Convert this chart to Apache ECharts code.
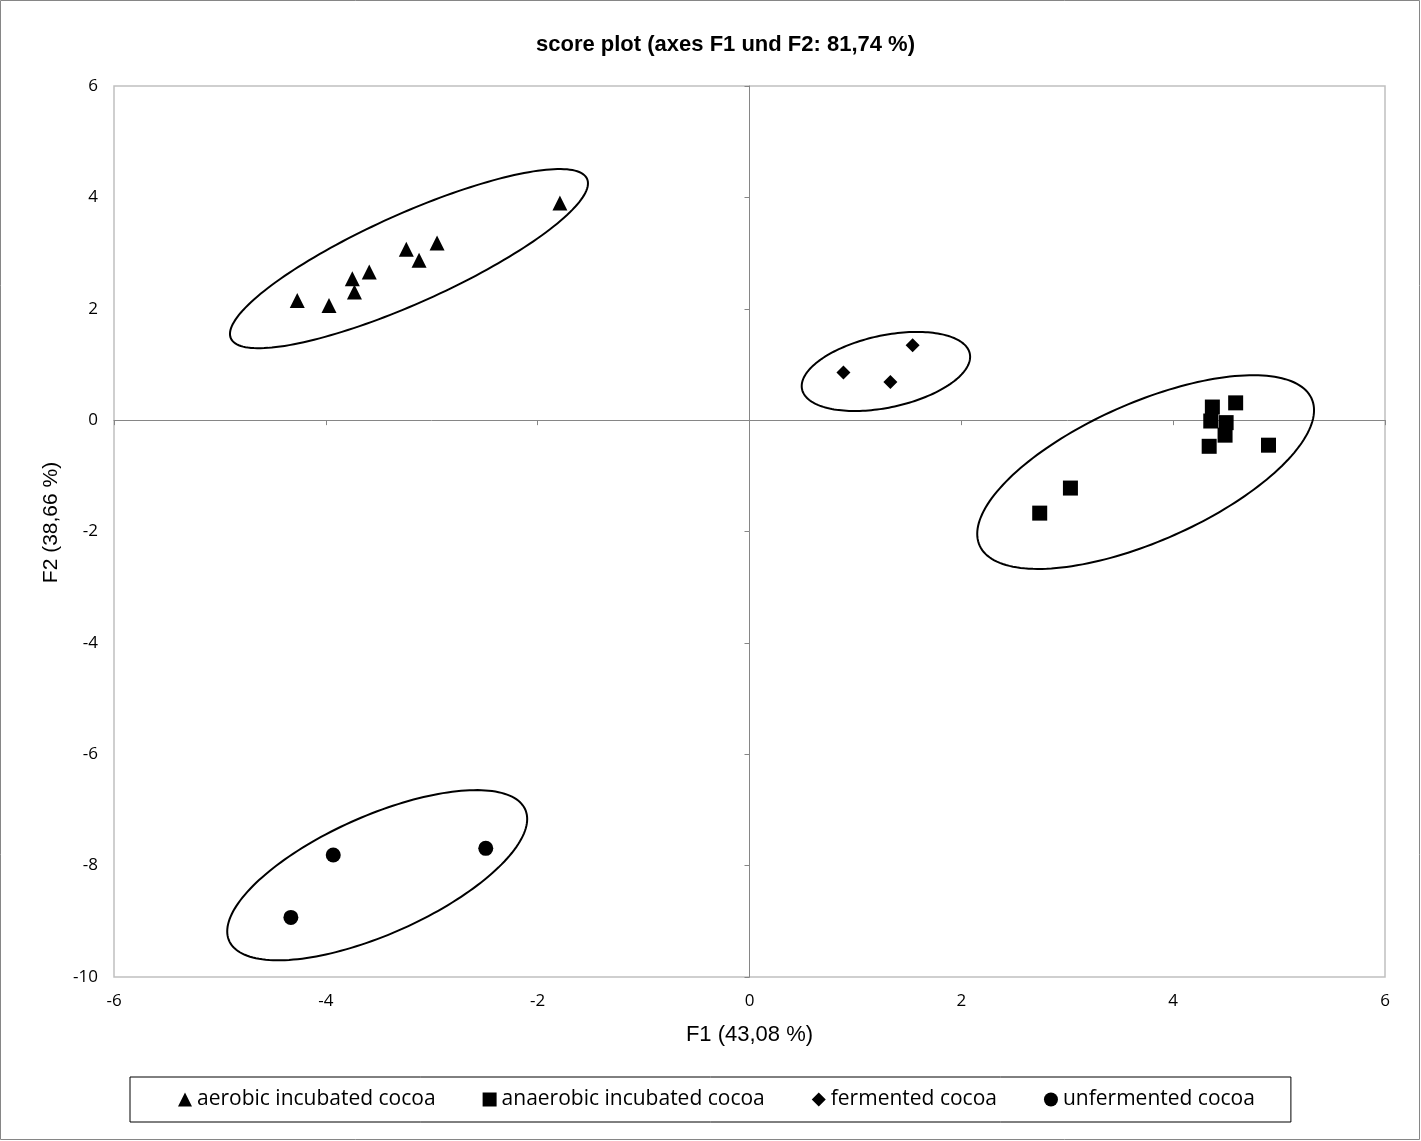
<!DOCTYPE html>
<html>
<head>
<meta charset="utf-8">
<script src="https://cdn.jsdelivr.net/npm/echarts@6/dist/echarts.min.js"></script>
<style>
html,body{margin:0;padding:0;background:#fff;}
#chart{width:1421px;height:1141px;}
</style>
</head>
<body>
<div id="chart"></div>
<script>
// ---- data ----
const seriesNames = ['aerobic incubated cocoa', 'anaerobic incubated cocoa', 'fermented cocoa', 'unfermented cocoa'];
const aerobicX = [-1.79, -4.27, -3.97, -3.75, -3.73, -3.59, -3.24, -3.12, -2.95];
const aerobicY = [3.90, 2.15, 2.06, 2.54, 2.30, 2.66, 3.07, 2.87, 3.18];
const anaerobicX = [2.74, 3.03, 4.37, 4.59, 4.355, 4.50, 4.49, 4.34, 4.90];
const anaerobicY = [-1.67, -1.22, 0.235, 0.31, -0.016, -0.045, -0.27, -0.47, -0.45];
const fermentedX = [0.887, 1.33, 1.54];
const fermentedY = [0.854, 0.685, 1.345];
const unfermentedX = [-3.93, -4.33, -2.49];
const unfermentedY = [-7.81, -8.93, -7.69];
// confidence ellipses: centre x, centre y, half x-extent, half y-extent, correlation (data units)
const ellipseCX = [-3.215, 3.74, 1.288, -3.515];
const ellipseCY = [2.90, -0.933, 0.874, -8.172];
const ellipseRX = [1.69, 1.59, 0.795, 1.416];
const ellipseRY = [1.609, 1.739, 0.71, 1.528];
const ellipseRho = [0.84, 0.638, 0.37, 0.66];
const xTicks = [-6, -4, -2, 0, 2, 4, 6];
const yTicks = [-10, -8, -6, -4, -2, 0, 2, 4, 6];

const zip = (xs, ys) => xs.map((x, i) => [x, ys[i]]);
const ellipseData = ellipseCX.map((c, i) => [c, ellipseCY[i], ellipseRX[i], ellipseRY[i], ellipseRho[i]]);

const chart = echarts.init(document.getElementById('chart'), null, {renderer: 'canvas'});
const tickFont = {fontFamily: 'Open Sans', fontSize: 17, color: '#000'};
const gray = '#868686';

function scatter(name, symbol, size, data) {
  return {
    name: name, type: 'scatter', symbol: symbol, symbolSize: size,
    itemStyle: {color: '#000', opacity: 1}, data: data, z: 5,
    emphasis: {disabled: true}
  };
}

chart.setOption({
  animation: false,
  backgroundColor: '#fff',
  title: {
    text: 'score plot (axes F1 und F2: 81,74 %)',
    left: 531, top: 29,
    textStyle: {fontFamily: 'Liberation Sans', fontWeight: 'bold', fontSize: 22, color: '#000'}
  },
  graphic: [{
    type: 'rect', silent: true, z: -1,
    shape: {x: 0.5, y: 0.5, width: 1419, height: 1139},
    style: {fill: 'none', stroke: gray, lineWidth: 1}
  }],
  grid: {
    left: 114, top: 86, right: 36, bottom: 164,
    show: true, borderColor: '#c0c0c0', borderWidth: 1.5, backgroundColor: '#fff'
  },
  xAxis: [{
    type: 'value', min: -6, max: 6, interval: 2, position: 'bottom',
    axisLine: {show: false, onZero: false},
    axisTick: {show: false}, splitLine: {show: false},
    axisLabel: Object.assign({margin: 16, formatter: v => xTicks.includes(v) ? String(v) : ''}, tickFont),
    name: 'F1 (43,08 %)', nameLocation: 'middle', nameGap: 47,
    nameTextStyle: {fontFamily: 'Liberation Sans', fontSize: 22, color: '#000'}
  }, {
    type: 'value', min: -6, max: 6, interval: 2, position: 'bottom',
    axisLine: {show: true, onZero: true, onZeroAxisIndex: 0, lineStyle: {color: gray, width: 1}},
    axisTick: {show: true, length: 5, lineStyle: {color: gray}},
    axisLabel: {show: false}, splitLine: {show: false}
  }],
  yAxis: [{
    type: 'value', min: -10, max: 6, interval: 2, position: 'left',
    axisLine: {show: false, onZero: false},
    axisTick: {show: false}, splitLine: {show: false},
    axisLabel: Object.assign({margin: 16, formatter: v => yTicks.includes(v) ? String(v) : ''}, tickFont),
    name: 'F2 (38,66 %)', nameLocation: 'middle', nameGap: 52, nameRotate: 90,
    nameTextStyle: {fontFamily: 'Liberation Sans', fontSize: 21, color: '#000', padding: [0, 0, 0, 18]}
  }, {
    type: 'value', min: -10, max: 6, interval: 2, position: 'left',
    axisLine: {show: true, onZero: true, onZeroAxisIndex: 0, lineStyle: {color: gray, width: 1}},
    axisTick: {show: true, length: 5, lineStyle: {color: gray}},
    axisLabel: {show: false}, splitLine: {show: false}
  }],
  legend: {
    data: seriesNames,
    left: 130, top: 1077,
    orient: 'horizontal',
    borderColor: '#000', borderWidth: 1,
    padding: [12, 36, 12, 48],
    itemGap: 47, itemWidth: 14, itemHeight: 14,
    textStyle: {fontFamily: 'Open Sans', fontSize: 21, color: '#000'},
    selectedMode: false
  },
  series: [
    scatter(seriesNames[0], 'triangle', 15, zip(aerobicX, aerobicY)),
    scatter(seriesNames[1], 'rect', 15, zip(anaerobicX, anaerobicY)),
    scatter(seriesNames[2], 'diamond', 14, zip(fermentedX, fermentedY)),
    scatter(seriesNames[3], 'circle', 15, zip(unfermentedX, unfermentedY)),
    {
      type: 'custom', name: 'ellipses', silent: true, z: 4,
      data: ellipseData,
      encode: {x: 0, y: 1},
      renderItem: function (params, api) {
        const cx = api.value(0), cy = api.value(1), rx = api.value(2), ry = api.value(3), rho = api.value(4);
        const s = Math.sqrt(1 - rho * rho);
        const pts = [];
        const n = 180;
        for (let i = 0; i < n; i++) {
          const t = i / n * 2 * Math.PI;
          pts.push(api.coord([cx + rx * Math.cos(t), cy + ry * (rho * Math.cos(t) + s * Math.sin(t))]));
        }
        return {type: 'polygon', shape: {points: pts}, style: {fill: 'none', stroke: '#000', lineWidth: 2}};
      }
    }
  ]
});
</script>
</body>
</html>
